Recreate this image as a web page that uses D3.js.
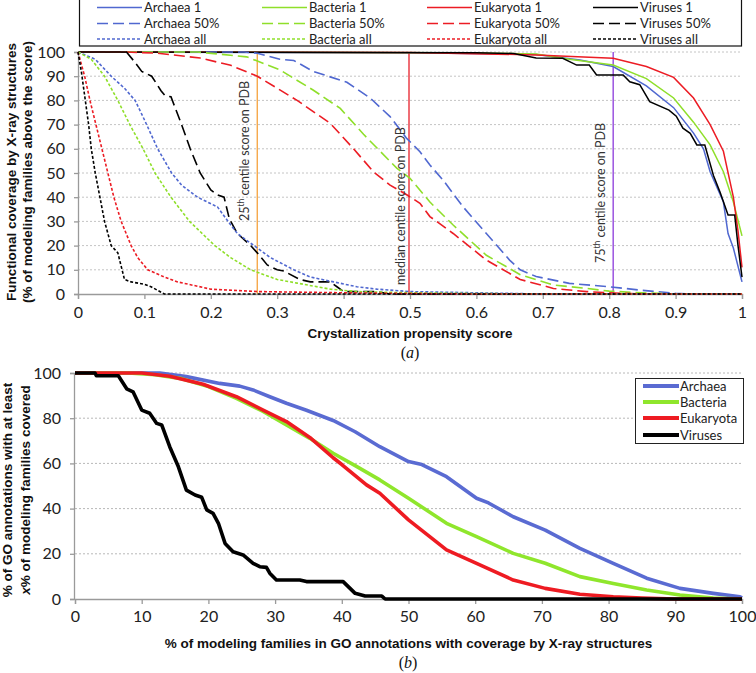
<!DOCTYPE html>
<html><head><meta charset="utf-8">
<script src="https://cdn.jsdelivr.net/npm/d3@7/dist/d3.min.js"></script>
<style>body{margin:0;background:#fff}svg{display:block}</style>
</head><body><svg id="c" width="756" height="673"></svg>
<script>
// ---------- Panel (a) data: [crystallization propensity score, % coverage] ----------
const archaea1 = [[0,100],[0.5,99.7],[0.69,99],[0.756,96.7],[0.806,94],[0.856,86],[0.897,77],[0.927,66.5],[0.942,60],[0.952,50.5],[0.972,38],[0.979,25],[0.987,19],[1,5]];
const bacteria1 = [[0,100],[0.55,99.7],[0.69,99.2],[0.74,97],[0.806,94.6],[0.856,89],[0.897,81],[0.927,71],[0.952,61.6],[0.972,50.5],[0.987,38],[1,24]];
const eukaryota1 = [[0,100],[0.5,99.8],[0.69,98.8],[0.806,97.4],[0.856,94],[0.897,89.5],[0.927,81],[0.952,70],[0.972,59],[0.987,40],[0.994,26],[1,11]];
const viruses1 = [[0,100],[0.6,99.7],[0.656,99.4],[0.69,97.5],[0.73,97.4],[0.751,94.6],[0.77,94.6],[0.781,90.5],[0.821,90.5],[0.831,87.7],[0.846,86.5],[0.861,79.5],[0.89,76],[0.901,73.5],[0.911,68.5],[0.922,66.4],[0.932,61.6],[0.944,61.6],[0.957,49],[0.967,42],[0.979,32.6],[0.989,32.6],[0.994,20],[1,7]];
const archaea50 = [[0,100],[0.25,100],[0.27,99.5],[0.304,97],[0.325,96.5],[0.354,92],[0.405,87.5],[0.44,81],[0.47,73.3],[0.495,64.3],[0.515,58.8],[0.53,53.3],[0.55,47],[0.58,36],[0.615,25],[0.65,14],[0.666,10],[0.69,7.2],[0.74,4.4],[0.8,3],[0.85,1.5],[0.9,0.3],[0.92,0],[1,0]];
const bacteria50 = [[0,100],[0.18,100],[0.254,98],[0.304,92.6],[0.354,84.3],[0.395,76.7],[0.43,66],[0.455,59],[0.48,52],[0.5,47.8],[0.53,38],[0.565,28.5],[0.615,16],[0.666,8],[0.716,3.7],[0.766,2.3],[0.8,1.2],[0.85,0.5],[0.9,0],[1,0]];
const eukaryota50 = [[0,100],[0.07,100],[0.12,99.5],[0.184,97.5],[0.23,94.5],[0.27,90],[0.33,80],[0.38,70.5],[0.415,60],[0.445,50.5],[0.47,45],[0.495,41],[0.515,37.5],[0.53,32],[0.565,25],[0.615,14],[0.666,6],[0.716,2.3],[0.766,1],[0.8,0.5],[0.85,0],[1,0]];
const viruses50 = [[0,100],[0.073,100],[0.085,96],[0.096,92],[0.111,90],[0.125,84],[0.131,82],[0.14,81.5],[0.156,70],[0.169,60],[0.184,50],[0.2,43],[0.21,41],[0.22,40],[0.228,31],[0.24,25],[0.26,20],[0.27,17],[0.285,12],[0.3,10],[0.31,9.5],[0.334,6],[0.35,5],[0.38,5],[0.39,3],[0.4,1],[0.45,1],[0.47,0],[1,0]];
const archaeaAll = [[0,100],[0.026,97],[0.05,90],[0.07,85],[0.086,80],[0.1,72],[0.105,69],[0.12,60],[0.141,50],[0.156,45],[0.18,40],[0.21,36],[0.226,30],[0.24,25],[0.265,20],[0.29,15],[0.325,10],[0.35,7],[0.385,5],[0.42,3],[0.45,2],[0.5,1],[0.6,0.5],[0.7,0],[1,0]];
const bacteriaAll = [[0,100],[0.02,97],[0.04,90],[0.06,80],[0.078,70],[0.098,60],[0.116,50],[0.14,40],[0.168,30],[0.206,20],[0.23,15],[0.26,10],[0.3,6],[0.33,4.5],[0.38,2],[0.42,1],[0.5,0.5],[0.6,0.2],[0.7,0],[1,0]];
const eukaryotaAll = [[0,100],[0.01,90],[0.018,80],[0.027,70],[0.036,60],[0.045,50],[0.054,40],[0.065,30],[0.08,20],[0.09,15],[0.105,10],[0.13,7],[0.15,5],[0.2,2],[0.27,1],[0.4,0.5],[0.5,0.2],[0.6,0],[1,0]];
const virusesAll = [[0,100],[0.005,92],[0.011,80],[0.016,70],[0.02,60],[0.026,50],[0.033,40],[0.04,30],[0.05,20],[0.06,17],[0.07,6],[0.08,5],[0.1,4],[0.11,3],[0.13,0],[1,0]];
const xTicksA = [0,0.1,0.2,0.3,0.4,0.5,0.6,0.7,0.8,0.9,1];
const yTicksA = [0,10,20,30,40,50,60,70,80,90,100];
const centileScores = [0.27, 0.4985, 0.806];
const centileLabels = ["25|th| centile score on PDB", "median centile score on PDB", "75|th| centile score on PDB"];

// ---------- Panel (b) data: [% of modeling families covered, % of GO annotations] ----------
const archaeaB = [[0,100],[12.7,100],[16.7,98.4],[21.7,95.4],[24.7,94.2],[26.7,92.5],[29.2,89.5],[31.7,86.6],[34.7,83.5],[38.7,79],[42,74],[45.7,67.4],[50,60.8],[52,59.5],[55.7,54.1],[60.2,44.6],[62,42.5],[65.7,36.4],[70.5,30.5],[75.7,22.4],[80.7,15.8],[85.7,9.2],[90.7,4.7],[95.7,2.5],[99.7,1],[100,0.5]];
const bacteriaB = [[0,100],[8,100],[12,99.2],[16,97.5],[20,94],[24.2,88.8],[28.2,83],[31.7,77],[35.2,71.1],[38.7,64.5],[42,59],[45.7,52.7],[50,44.6],[55.7,33.5],[60.2,27.6],[65.7,20.2],[70.5,15.8],[75.7,9.9],[80.7,6.9],[85.7,4],[90.7,1.8],[95.7,0.4],[100,0]];
const eukaryotaB = [[0,100],[10,100],[14.2,98.6],[19.2,95],[24.2,89.5],[28.2,83.6],[31.7,78.5],[35.2,71.5],[38.7,62.5],[40,59.5],[43.7,50.5],[45.7,46.8],[50,35],[55.7,21.7],[60.2,15.8],[65.7,8.4],[70.5,4.7],[75.7,2.1],[80.7,1],[85,0.4],[90,0],[100,0]];
const virusesB = [[0,100],[3,100],[3.2,98.8],[6.5,98.8],[7.75,93],[8.7,91.7],[10,83.6],[11.2,82.2],[12.25,77.7],[13,77],[14.2,67.4],[15.5,58.5],[16.7,48.2],[18,46],[19,45],[19.75,39.4],[20.7,37.9],[21.5,33.5],[22.5,24.6],[23.7,20.9],[25.2,19.5],[26.7,15.8],[27.7,14.3],[28.7,14],[29.2,11.4],[30.2,8.4],[33.7,8.4],[34.7,7.7],[40.2,7.7],[42,2.5],[43.5,1.3],[46,1.3],[46.5,0],[100,0]];
const xTicksB = [0,10,20,30,40,50,60,70,80,90,100];
const yTicksB = [0,20,40,60,80,100];

const domainNames = ["Archaea","Bacteria","Eukaryota","Viruses"];
const colorsA = {Archaea:"#5068d0", Bacteria:"#8fdf2a", Eukaryota:"#ec1c24", Viruses:"#000000"};
const colorsB = {Archaea:"#5a6bd2", Bacteria:"#8fe62c", Eukaryota:"#ee1b22", Viruses:"#000000"};
const seriesA = [
  {name:"Archaea 1", dom:"Archaea", kind:"1", data:archaea1},
  {name:"Bacteria 1", dom:"Bacteria", kind:"1", data:bacteria1},
  {name:"Eukaryota 1", dom:"Eukaryota", kind:"1", data:eukaryota1},
  {name:"Viruses 1", dom:"Viruses", kind:"1", data:viruses1},
  {name:"Archaea 50%", dom:"Archaea", kind:"50", data:archaea50},
  {name:"Bacteria 50%", dom:"Bacteria", kind:"50", data:bacteria50},
  {name:"Eukaryota 50%", dom:"Eukaryota", kind:"50", data:eukaryota50},
  {name:"Viruses 50%", dom:"Viruses", kind:"50", data:viruses50},
  {name:"Archaea all", dom:"Archaea", kind:"all", data:archaeaAll},
  {name:"Bacteria all", dom:"Bacteria", kind:"all", data:bacteriaAll},
  {name:"Eukaryota all", dom:"Eukaryota", kind:"all", data:eukaryotaAll},
  {name:"Viruses all", dom:"Viruses", kind:"all", data:virusesAll}
];
const seriesB = [
  {name:"Archaea", data:archaeaB},
  {name:"Bacteria", data:bacteriaB},
  {name:"Eukaryota", data:eukaryotaB},
  {name:"Viruses", data:virusesB}
];
const dashFor = {"1":null, "50":"11,5", "all":"3,2"};

const svg = d3.select("#c");
const tickFont = "Lato, 'Open Sans', sans-serif";
const titleFont = "'Liberation Sans', Arial, sans-serif";

function styleAxis(g){
  g.select(".domain").attr("stroke","#9a9a9a").attr("stroke-width",1.3);
  g.selectAll(".tick line").attr("stroke","#9a9a9a").attr("stroke-width",1.3);
  g.selectAll(".tick text").attr("font-family",tickFont).attr("font-size",16).attr("fill","#222");
}

// ================= Panel (a) =================
const xA = d3.scaleLinear().domain([0,1]).range([78,742]);
const yA = d3.scaleLinear().domain([0,100]).range([294,52]);
const gA = svg.append("g");

gA.append("g").selectAll("line").data(yTicksA.filter(d=>d>0)).join("line")
  .attr("x1",xA(0)).attr("x2",xA(1)).attr("y1",d=>yA(d)).attr("y2",d=>yA(d))
  .attr("stroke","#c4c4c4").attr("stroke-width",1).attr("stroke-dasharray","2,2");

gA.append("g").attr("transform",`translate(0,${yA(0)})`)
  .call(d3.axisBottom(xA).tickValues(xTicksA).tickFormat(d=>d3.format("~g")(d)).tickSize(5).tickPadding(8)).call(styleAxis);
gA.append("g").attr("transform",`translate(${xA(0)},0)`)
  .call(d3.axisLeft(yA).tickValues(yTicksA).tickSize(4).tickPadding(9)).call(styleAxis);

// centile lines
const centileColors = ["#f6a84a","#e8303a","#9448de"];
gA.append("g").selectAll("line").data(centileScores).join("line")
  .attr("x1",d=>xA(d)).attr("x2",d=>xA(d)).attr("y1",yA(100)).attr("y2",yA(0))
  .attr("stroke",(d,i)=>centileColors[i]).attr("stroke-width",1.4);

const lineA = d3.line().x(d=>xA(d[0])).y(d=>yA(d[1]));
gA.append("g").selectAll("path").data(seriesA).join("path")
  .attr("d",d=>lineA(d.data)).attr("fill","none")
  .attr("stroke",d=>colorsA[d.dom]).attr("stroke-width",d=>d.kind==="1"?1.5:1.6)
  .attr("stroke-dasharray",d=>dashFor[d.kind]);

// centile text (vertical)
const centTextOff = [8,4,8];
const centTextBottom = [221,285,263];
centileScores.forEach((s,i)=>{
  const t = gA.append("text").attr("transform",`translate(${xA(s)-centTextOff[i]},${centTextBottom[i]}) rotate(-90)`)
    .attr("font-family",tickFont).attr("font-size",12.5).attr("fill","#333");
  const parts = centileLabels[i].split("|");
  if(parts.length===3){
    t.append("tspan").text(parts[0]);
    t.append("tspan").attr("font-size",8.5).attr("dy",-5).text(parts[1]);
    t.append("tspan").attr("dy",5).text(parts[2]);
  } else t.text(parts[0]);
});

// legend (a)
const legA = gA.append("g");
legA.append("rect").attr("x",79.5).attr("y",-1).attr("width",662).attr("height",47)
  .attr("fill","#fff").attr("stroke","#111").attr("stroke-width",1.2);
const legColX = [97,262,427,593];
const legRowY = [7.5,23.5,39];
seriesA.forEach((s,k)=>{
  const col = domainNames.indexOf(s.dom);
  const row = ["1","50","all"].indexOf(s.kind);
  const x0 = legColX[col], y0 = legRowY[row];
  legA.append("line").attr("x1",x0).attr("x2",x0+45).attr("y1",y0).attr("y2",y0)
    .attr("stroke",colorsA[s.dom]).attr("stroke-width",1.6).attr("stroke-dasharray",dashFor[s.kind]);
  legA.append("text").attr("x",x0+47).attr("y",y0).attr("dy","0.35em")
    .attr("font-family",tickFont).attr("font-size",13).attr("fill","#222").text(s.name);
});

// titles (a)
gA.append("text").attr("x",(xA(0)+xA(1))/2).attr("y",338).attr("text-anchor","middle")
  .attr("font-family",titleFont).attr("font-weight","bold").attr("font-size",13.5).attr("fill","#111")
  .text("Crystallization propensity score");
const ytA = gA.append("text").attr("transform","translate(0,172) rotate(-90)")
  .attr("text-anchor","middle").attr("font-family",titleFont).attr("font-weight","bold").attr("font-size",13.5).attr("fill","#111");
ytA.append("tspan").attr("x",0).attr("y",16).text("Functional coverage by X-ray structures");
ytA.append("tspan").attr("x",0).attr("y",32).text("(% of modeling families above the score)");
const capA = gA.append("text").attr("x",410).attr("y",358).attr("text-anchor","middle")
  .attr("font-family","'Liberation Serif','DejaVu Serif',serif").attr("font-size",16).attr("fill","#111");
capA.append("tspan").text("(");
capA.append("tspan").attr("font-style","italic").text("a");
capA.append("tspan").text(")");

// ================= Panel (b) =================
const xB = d3.scaleLinear().domain([0,100]).range([75,742]);
const yB = d3.scaleLinear().domain([0,100]).range([599,373]);
const gB = svg.append("g");

gB.append("g").selectAll("line").data(yTicksB.filter(d=>d>0)).join("line")
  .attr("x1",xB(0)).attr("x2",xB(100)).attr("y1",d=>yB(d)).attr("y2",d=>yB(d))
  .attr("stroke","#b8b8b8").attr("stroke-width",1).attr("stroke-dasharray","2,2");

gB.append("g").attr("transform",`translate(0,${yB(0)})`)
  .call(d3.axisBottom(xB).tickValues(xTicksB).tickSize(5).tickPadding(7)).call(styleAxis);
gB.append("g").attr("transform",`translate(${xB(0)-1},0)`)
  .call(d3.axisLeft(yB).tickValues(yTicksB).tickSize(4).tickPadding(9)).call(styleAxis);

const lineB = d3.line().x(d=>xB(d[0])).y(d=>yB(d[1]));
gB.append("g").selectAll("path").data(seriesB).join("path")
  .attr("d",d=>lineB(d.data)).attr("fill","none")
  .attr("stroke",d=>colorsB[d.name]).attr("stroke-width",3.6).attr("stroke-linejoin","round");

// legend (b)
const legB = gB.append("g");
legB.append("rect").attr("x",635.5).attr("y",378.5).attr("width",108).attr("height",65)
  .attr("fill","#fff").attr("stroke","#222").attr("stroke-width",1);
const legBY = [386,402,418,435];
seriesB.forEach((s,i)=>{
  legB.append("line").attr("x1",643).attr("x2",679).attr("y1",legBY[i]).attr("y2",legBY[i])
    .attr("stroke",colorsB[s.name]).attr("stroke-width",4);
  legB.append("text").attr("x",680).attr("y",legBY[i]).attr("dy","0.35em")
    .attr("font-family",tickFont).attr("font-size",13).attr("fill","#222").text(s.name);
});

// titles (b)
gB.append("text").attr("x",(xB(0)+xB(100))/2).attr("y",648).attr("text-anchor","middle")
  .attr("font-family",titleFont).attr("font-weight","bold").attr("font-size",13.5).attr("fill","#111")
  .text("% of modeling families in GO annotations with coverage by X-ray structures");
const ytB = gB.append("text").attr("transform","translate(0,490) rotate(-90)")
  .attr("text-anchor","middle").attr("font-family",titleFont).attr("font-weight","bold").attr("font-size",13.5).attr("fill","#111");
ytB.append("tspan").attr("x",0).attr("y",12).text("% of GO annotations with at least");
const l2 = ytB.append("tspan").attr("x",0).attr("y",30);
l2.append("tspan").attr("font-style","italic").text("x");
l2.append("tspan").text("% of modeling families covered");
const capB = gB.append("text").attr("x",408).attr("y",668).attr("text-anchor","middle")
  .attr("font-family","'Liberation Serif','DejaVu Serif',serif").attr("font-size",16).attr("fill","#111");
capB.append("tspan").text("(");
capB.append("tspan").attr("font-style","italic").text("b");
capB.append("tspan").text(")");
</script></body></html>
